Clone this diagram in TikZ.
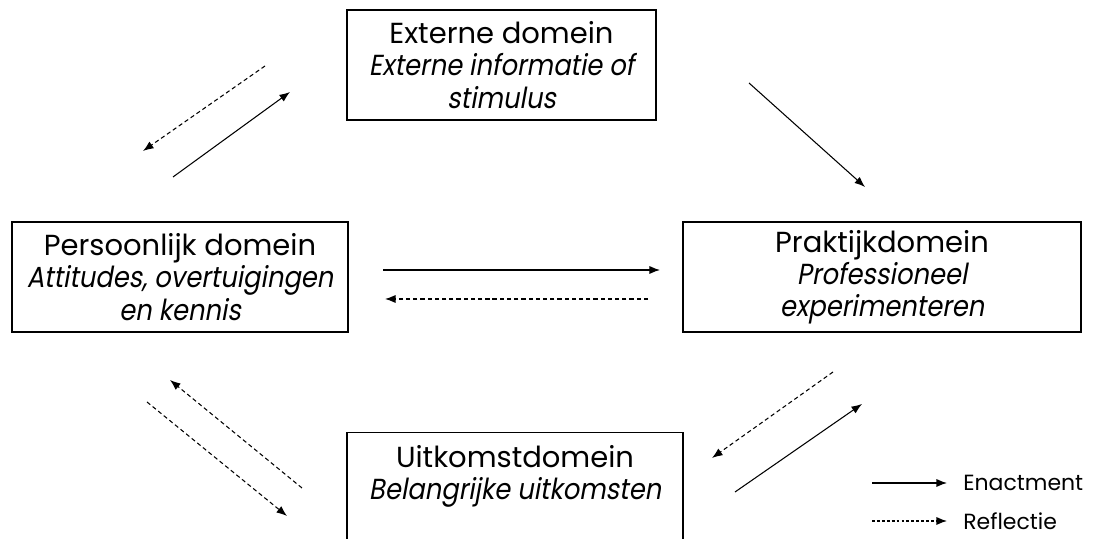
\documentclass[tikz,border=0pt]{standalone}
\usepackage{fontspec}
\setmainfont{Poppins}[ItalicFont=Poppins, ItalicFeatures={FakeSlant=0.18, FakeStretch=0.89}]
\usepackage{tikz}
\usetikzlibrary{arrows.meta,positioning}

\begin{document}
\begin{tikzpicture}[
    domainbox/.style={rectangle, draw=black, semithick, align=center, font=\fontsize{16.5}{18.3}\selectfont, inner sep=0pt},
    enact/.style={-{Latex[length=6pt,width=4.6pt]}, semithick},
    reflect/.style={-{Latex[length=6pt,width=4.6pt]}, semithick, dash pattern=on 2.4pt off 1.7pt},
    legend/.style={font=\fontsize{12.5}{14}\selectfont, anchor=west, inner sep=0pt}
  ]
    \useasboundingbox (0,0) rectangle (21.86,10.78);

    % domains
    \node[domainbox, minimum width=6.18cm, minimum height=2.2cm] (extern) at (10.03,9.48) {Externe domein\\\textit{Externe informatie of}\\\textit{stimulus}};
    \node[domainbox, minimum width=6.72cm, minimum height=2.2cm] (persoon) at (3.60,5.24) {Persoonlijk domein\\\textit{Attitudes, overtuigingen}\\\textit{en kennis}};
    \node[domainbox, minimum width=7.96cm, minimum height=2.2cm] (praktijk) at (17.64,5.24) {Praktijkdomein\\\textit{Professioneel}\\\textit{experimenteren}};
    \node[domainbox, minimum width=6.72cm, anchor=north, text depth=1.5cm, inner ysep=0.25cm] (uitkomst) at (10.30,2.14) {Uitkomstdomein\\\textit{Belangrijke uitkomsten}};

    % arrow ends
    \coordinate (a1) at (5.30,9.46);  \coordinate (a2) at (2.86,7.76);
    \coordinate (b1) at (3.46,7.24);  \coordinate (b2) at (5.80,8.94);
    \coordinate (c1) at (14.98,9.12); \coordinate (c2) at (17.30,7.04);
    \coordinate (d1) at (7.66,5.38);  \coordinate (d2) at (13.20,5.38);
    \coordinate (e1) at (12.96,4.80); \coordinate (e2) at (7.70,4.80);
    \coordinate (f1) at (6.04,1.02);  \coordinate (f2) at (3.40,3.18);
    \coordinate (g1) at (2.94,2.74);  \coordinate (g2) at (5.74,0.46);
    \coordinate (h1) at (16.66,3.34); \coordinate (h2) at (14.24,1.62);
    \coordinate (k1) at (14.70,0.94); \coordinate (k2) at (17.24,2.70);

    \draw[reflect] (a1) -- (a2);
    \draw[enact] (b1) -- (b2);
    \draw[enact] (c1) -- (c2);
    \draw[enact] (d1) -- (d2);
    \draw[reflect] (e1) -- (e2);
    \draw[reflect] (f1) -- (f2);
    \draw[reflect] (g1) -- (g2);
    \draw[reflect] (h1) -- (h2);
    \draw[enact] (k1) -- (k2);

    % legend
    \coordinate (l1) at (17.44,1.12); \coordinate (l2) at (18.94,1.12);
    \coordinate (m1) at (17.44,0.36); \coordinate (m2) at (18.94,0.36);
    \draw[enact] (l1) -- (l2);
    \draw[reflect, dash pattern=on 1.6pt off 1.2pt] (m1) -- (m2);
    \node[legend, right=0.32cm of l2] (enactment) {Enactment};
    \node[legend, right=0.32cm of m2] (reflectie) {Reflectie};
  \end{tikzpicture}
\end{document}
